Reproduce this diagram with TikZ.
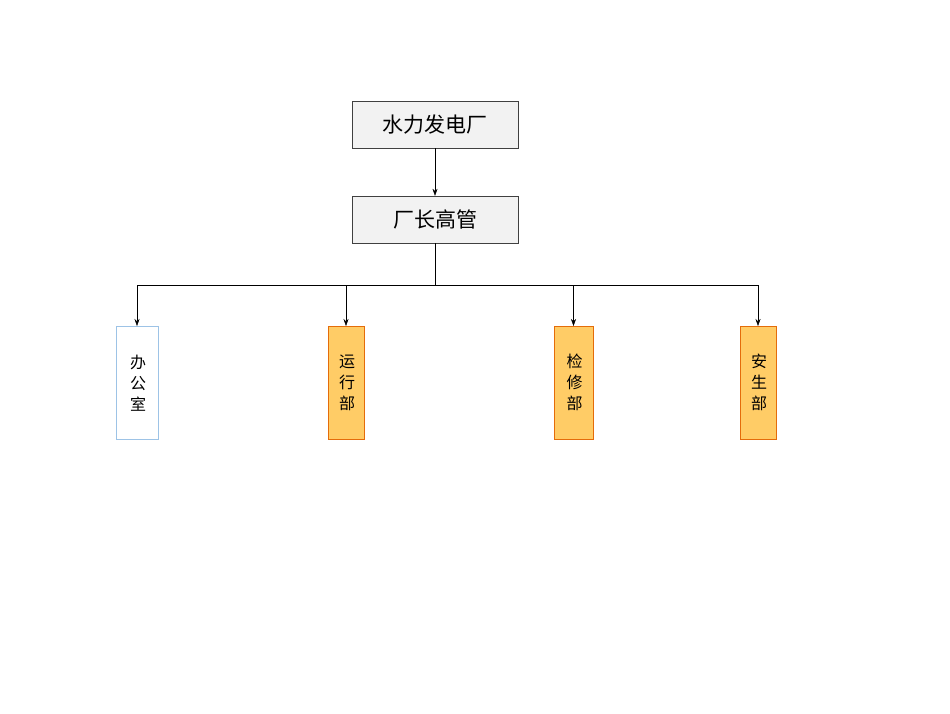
\documentclass[tikz,border=0pt]{standalone}
\usepackage{fontspec}
\setmainfont{Noto Sans CJK SC}
\usetikzlibrary{arrows.meta,positioning}
\definecolor{boxgray}{HTML}{F2F2F2}
\definecolor{deptfill}{HTML}{FFCC66}
\definecolor{deptline}{HTML}{E46C0A}
\definecolor{officeline}{HTML}{9DC3E6}
\tikzset{
  head/.style={rectangle,draw=black!75,fill=boxgray,minimum width=166pt,minimum height=47pt,font=\fontsize{21}{24}\selectfont},
  dept/.style={rectangle,draw=deptline,fill=deptfill,minimum height=113pt,text width=14pt,align=center,anchor=north,inner sep=2pt,font=\fontsize{16}{21}\selectfont},
  office/.style={dept,draw=officeline,fill=white,minimum width=42pt},
  link/.style={-{Stealth[length=7pt,width=5pt]},thin}
}
\begin{document}
\begin{tikzpicture}[x=1pt,y=-1pt]
\useasboundingbox (0,0) rectangle (950,713);

\node (plant) [head] at (435,124.5) {水力发电厂};
\node (mgmt) [head] at (435,219.5) {厂长高管};

\node (office) [office] at (137,326) {办\\公\\室};
\node (ops) [dept,minimum width=36pt] at (346,326) {运\\行\\部};
\node (maint) [dept,minimum width=39pt] at (573.5,326) {检\\修\\部};
\node (safety) [dept,minimum width=36pt] at (758,326) {安\\生\\部};

\draw [link] (plant) -- (mgmt);
\coordinate (bus) at (435,285);
\draw (mgmt.south) -- (bus);
\foreach \d in {office,ops,maint,safety}
  \draw [link] (bus) -| (\d.north);

\end{tikzpicture}
\end{document}
